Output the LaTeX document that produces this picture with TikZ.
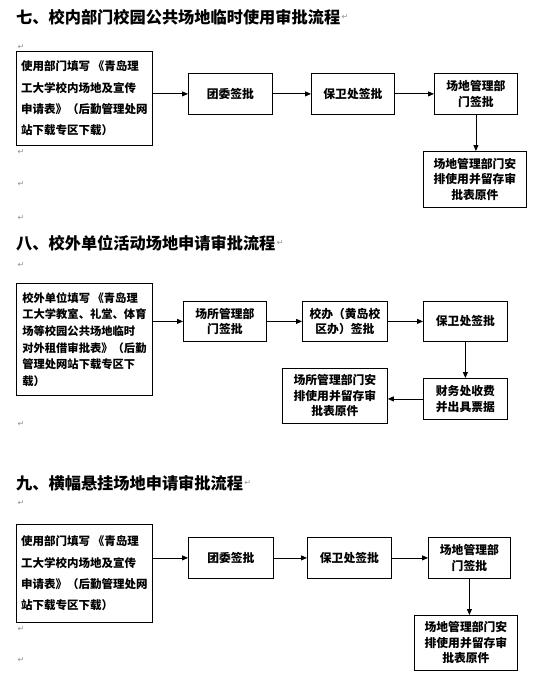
\documentclass[tikz,border=0pt]{standalone}
\usepackage{fontspec}
\newfontfamily\cjk{Noto Sans CJK SC}
\newfontfamily\pmfont{DejaVu Sans}
\usetikzlibrary{arrows.meta, positioning}

\begin{document}
\begin{tikzpicture}[
  x=1pt, y=-1pt,
  every node/.style={inner sep=0pt},
  title/.style={anchor=west, font=\cjk\bfseries\fontsize{16.2}{18}\selectfont},
  form/.style={draw, line width=0.8pt, anchor=north west, minimum width=136pt, align=left, font=\cjk\bfseries\fontsize{11.5}{21.3}\selectfont},
  stepbox/.style={draw, line width=0.8pt, anchor=north west, align=center, font=\cjk\bfseries\fontsize{11.8}{15.5}\selectfont},
  parmark/.style={font=\pmfont\fontsize{8}{8}\selectfont, text=gray!85},
  arrow/.style={-{Triangle[length=6pt,width=5pt]}, line width=0.8pt}
]
  \fill[white] (0,0) rectangle (535,682);
  \useasboundingbox (0,0) rectangle (535,682);

  % 七
  \node[title] (t7) at (16,17) {七、校内部门校园公共场地临时使用审批流程};
  \node[parmark, right=1pt of t7] (pm7) {↵};

  \node[form, minimum height=94pt] (form7) at (16,51) {使用部门填写 《青岛理\\工大学校内场地及宣传\\申请表》（后勤管理处网\\站下载专区下载）};
  \node[stepbox, minimum width=84pt, minimum height=41pt] (tw7) at (188,73) {团委签批};
  \node[stepbox, minimum width=83pt, minimum height=41pt] (bw7) at (311,73) {保卫处签批};
  \node[stepbox, minimum width=83pt, minimum height=41pt] (cd7) at (434,73) {场地管理部\\门签批};
  \node[stepbox, minimum width=103pt, minimum height=56pt] (ap7) at (423,151) {场地管理部门安\\排使用并留存审\\批表原件};

  \draw[arrow] (form7.east |- tw7) -- (tw7);
  \draw[arrow] (tw7) -- (bw7);
  \draw[arrow] (bw7) -- (cd7);
  \draw[arrow] (cd7) -- (cd7 |- ap7.north);

  % 八
  \node[title] (t8) at (16,243) {八、校外单位活动场地申请审批流程};
  \node[parmark, right=1pt of t8] (pm8) {↵};

  \node[form, minimum height=112pt, font=\cjk\bfseries\fontsize{11.3}{16.6}\selectfont] (form8) at (16,283) {校外单位填写 《青岛理\\工大学教室、礼堂、体育\\场等校园公共场地临时\\对外租借审批表》（后勤\\管理处网站下载专区下\\载）};
  \node[stepbox, minimum width=83pt, minimum height=40pt] (cs8) at (183,301) {场所管理部\\门签批};
  \node[stepbox, minimum width=85pt, minimum height=40pt] (xb8) at (302,301) {校办（黄岛校\\区办）签批};
  \node[stepbox, minimum width=84pt, minimum height=40pt] (bw8) at (423,301) {保卫处签批};
  \node[stepbox, minimum width=84pt, minimum height=41pt] (cw8) at (423,378) {财务处收费\\并出具票据};
  \node[stepbox, minimum width=105pt, minimum height=55pt] (ap8) at (282,368) {场所管理部门安\\排使用并留存审\\批表原件};

  \draw[arrow] (form8.east |- cs8) -- (cs8);
  \draw[arrow] (cs8) -- (xb8);
  \draw[arrow] (xb8) -- (bw8);
  \draw[arrow] (bw8) -- (bw8 |- cw8.north);
  \draw[arrow] (cw8) -- (cw8 -| ap8.east);

  % 九
  \node[title] (t9) at (16,483) {九、横幅悬挂场地申请审批流程};
  \node[parmark, right=1pt of t9] (pm9) {↵};

  \node[form, minimum height=98pt] (form9) at (16,524) {使用部门填写 《青岛理\\工大学校内场地及宣传\\申请表》（后勤管理处网\\站下载专区下载）};
  \node[stepbox, minimum width=85pt, minimum height=41pt] (tw9) at (188,537) {团委签批};
  \node[stepbox, minimum width=84pt, minimum height=41pt] (bw9) at (307,537) {保卫处签批};
  \node[stepbox, minimum width=82pt, minimum height=41pt] (cd9) at (428,537) {场地管理部\\门签批};
  \node[stepbox, minimum width=103pt, minimum height=55pt] (ap9) at (414,615) {场地管理部门安\\排使用并留存审\\批表原件};

  \draw[arrow] (form9.east |- tw9) -- (tw9);
  \draw[arrow] (tw9) -- (bw9);
  \draw[arrow] (bw9) -- (cd9);
  \draw[arrow] (cd9) -- (cd9 |- ap9.north);

  % empty paragraphs
  \foreach \y [count=\i] in {47,152,184,218,265,424,503,629,660}
    \node[parmark, name=pe\i] at (21,\y) {↵};

\end{tikzpicture}
\end{document}
